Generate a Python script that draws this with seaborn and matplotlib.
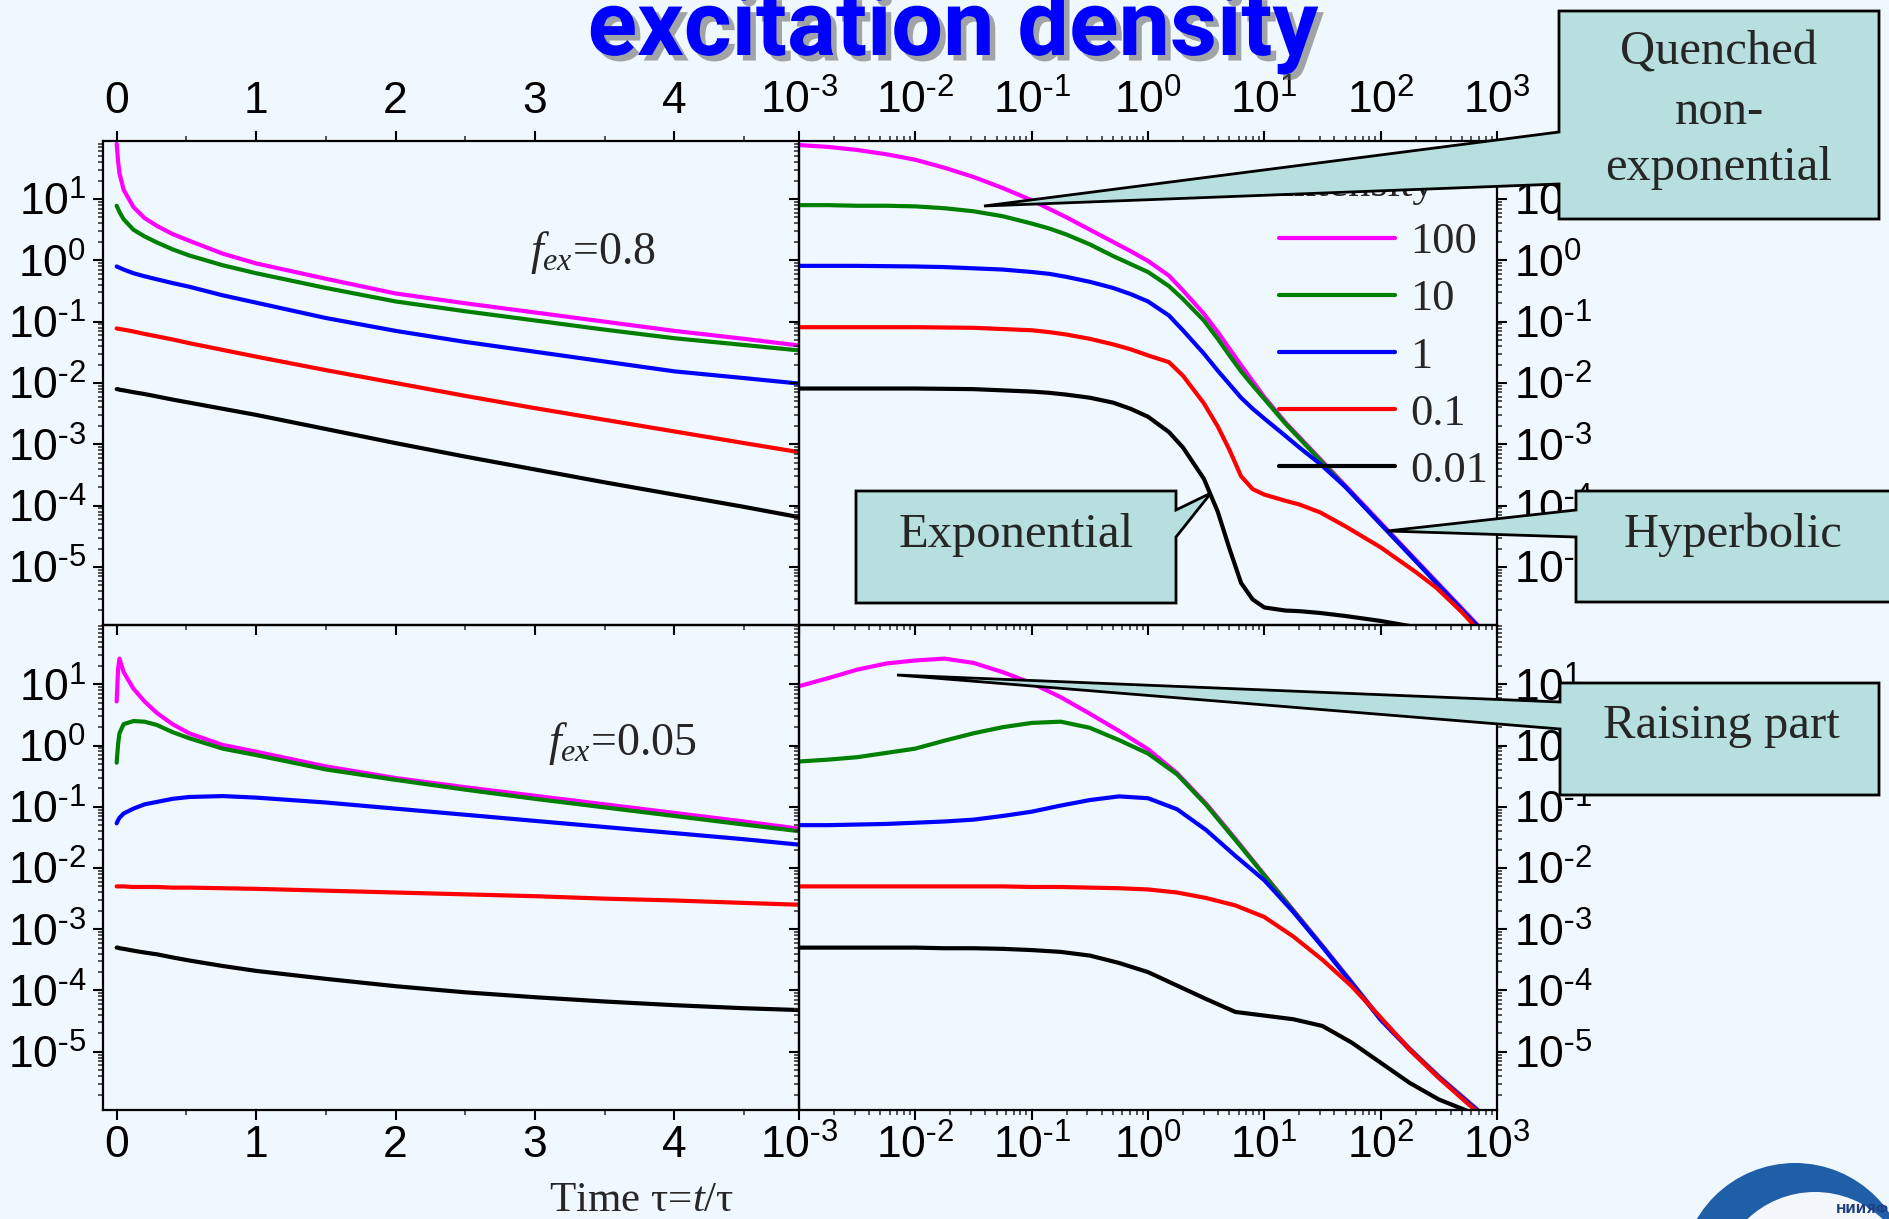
import numpy as np
import pandas as pd
import matplotlib
matplotlib.use("Agg")
import matplotlib.pyplot as plt
import matplotlib.ticker as mticker
import matplotlib.patheffects as pe
from matplotlib.patches import Polygon, Ellipse
from matplotlib.lines import Line2D
import seaborn as sns

# ---------------------------------------------------------------- data
intensity_labels = ["100", "10", "1", "0.1", "0.01"]
line_colors = ["#ff00ff", "#008000", "#0000ff", "#ff0000", "#000000"]

# linear time axis (left panels), tau = t / tau_rad
t_lin = [0, 0.01, 0.02, 0.05, 0.12, 0.2, 0.29, 0.4, 0.52, 0.76, 1.0,
         1.5, 2.0, 2.5, 3.0, 3.5, 4.0, 4.5, 4.9]

# decimal exponents of the excitation density, f_ex = 0.8, linear time
lg_hi_lin_100 = [1.90, 1.62, 1.42, 1.15, 0.87, 0.69, 0.56, 0.43, 0.32, 0.11, -0.05,
                 -0.30, -0.54, -0.70, -0.85, -1.00, -1.15, -1.28, -1.39]
lg_hi_lin_10 = [0.89, 0.84, 0.79, 0.67, 0.50, 0.39, 0.29, 0.18, 0.08, -0.08, -0.21,
                -0.45, -0.67, -0.83, -0.98, -1.13, -1.27, -1.38, -1.47]
lg_hi_lin_1 = [-0.10, -0.11, -0.12, -0.15, -0.21, -0.26, -0.31, -0.37, -0.43, -0.57, -0.69,
               -0.94, -1.15, -1.33, -1.49, -1.65, -1.81, -1.92, -2.01]
lg_hi_lin_01 = [-1.11, -1.115, -1.12, -1.13, -1.16, -1.20, -1.24, -1.29, -1.35, -1.46, -1.57,
                -1.79, -2.00, -2.21, -2.41, -2.60, -2.79, -2.98, -3.13]
lg_hi_lin_001 = [-2.10, -2.10, -2.11, -2.12, -2.15, -2.18, -2.22, -2.27, -2.32, -2.42, -2.52,
                 -2.75, -2.98, -3.20, -3.41, -3.62, -3.82, -4.02, -4.19]

# f_ex = 0.05, linear time
lg_lo_lin_100 = [0.72, 1.25, 1.42, 1.20, 0.93, 0.72, 0.53, 0.35, 0.20, 0.01, -0.10,
                 -0.34, -0.53, -0.68, -0.82, -0.96, -1.10, -1.24, -1.36]
lg_lo_lin_10 = [-0.28, 0.02, 0.20, 0.35, 0.40, 0.39, 0.335, 0.22, 0.12, -0.05, -0.155,
                -0.39, -0.56, -0.72, -0.87, -1.01, -1.15, -1.29, -1.40]
lg_lo_lin_1 = [-1.27, -1.22, -1.18, -1.11, -1.03, -0.96, -0.92, -0.87, -0.84, -0.825, -0.85,
               -0.93, -1.03, -1.13, -1.23, -1.33, -1.43, -1.53, -1.62]
lg_lo_lin_01 = [-2.30, -2.30, -2.30, -2.30, -2.31, -2.31, -2.31, -2.32, -2.32, -2.33, -2.34,
                -2.37, -2.40, -2.43, -2.46, -2.50, -2.53, -2.57, -2.60]
lg_lo_lin_001 = [-3.30, -3.30, -3.31, -3.32, -3.35, -3.38, -3.41, -3.46, -3.51, -3.60, -3.68,
                 -3.81, -3.93, -4.03, -4.11, -4.18, -4.24, -4.29, -4.32]

# logarithmic time axis, f_ex = 0.8 (decimal exponents of tau)
lg_tau_hi = [-3, -2.75, -2.5, -2.25, -2, -1.75, -1.5, -1.25, -1, -0.85, -0.7, -0.5, -0.3, -0.15,
             0, 0.18, 0.3, 0.48, 0.6, 0.7, 0.8, 0.9, 1.0, 1.18, 1.3, 1.48, 1.7, 2.0, 2.3,
             2.48, 2.7, 3.0]
lg_hi_log_100 = [1.88, 1.85, 1.80, 1.73, 1.64, 1.51, 1.36, 1.18, 0.98, 0.84, 0.70, 0.50, 0.30, 0.15,
                 -0.01, -0.25, -0.49, -0.87, -1.17, -1.44, -1.71, -1.97, -2.23, -2.64, -2.88, -3.24,
                 -3.68, -4.28, -4.88, -5.24, -5.68, -6.28]
lg_hi_log_10 = [0.90, 0.90, 0.89, 0.89, 0.88, 0.85, 0.80, 0.72, 0.60, 0.52, 0.42, 0.26, 0.07, -0.06,
                -0.19, -0.42, -0.63, -0.98, -1.28, -1.55, -1.81, -2.04, -2.26, -2.66, -2.90, -3.26,
                -3.70, -4.30, -4.90, -5.26, -5.70, -6.30]
lg_hi_log_1 = [-0.09, -0.09, -0.09, -0.095, -0.10, -0.11, -0.13, -0.15, -0.19, -0.22, -0.27, -0.35,
               -0.45, -0.55, -0.67, -0.90, -1.14, -1.52, -1.80, -2.02, -2.24, -2.42, -2.58, -2.86,
               -3.05, -3.32, -3.70, -4.30, -4.90, -5.26, -5.70, -6.30]
lg_hi_log_01 = [-1.09, -1.09, -1.09, -1.09, -1.09, -1.095, -1.10, -1.12, -1.14, -1.17, -1.21, -1.28,
                -1.37, -1.45, -1.55, -1.66, -1.88, -2.33, -2.71, -3.09, -3.52, -3.73, -3.82, -3.92,
                -3.98, -4.11, -4.34, -4.68, -5.08, -5.34, -5.74, -6.36]
lg_hi_log_001 = [-2.09, -2.09, -2.09, -2.09, -2.09, -2.095, -2.10, -2.12, -2.14, -2.16, -2.19, -2.24,
                 -2.32, -2.42, -2.55, -2.80, -3.05, -3.56, -4.10, -4.70, -5.26, -5.53, -5.66, -5.71,
                 -5.72, -5.75, -5.80, -5.88, -5.98, -6.08, -6.25, -6.50]

# logarithmic time axis, f_ex = 0.05
lg_tau_lo = [-3, -2.75, -2.5, -2.25, -2, -1.75, -1.5, -1.25, -1, -0.75, -0.5, -0.25, 0,
             0.25, 0.5, 0.75, 1.0, 1.25, 1.5, 1.75, 2.0, 2.25, 2.5, 2.75, 3.0]
lg_lo_log_100 = [0.97, 1.10, 1.24, 1.34, 1.39, 1.42, 1.35, 1.20, 1.02, 0.79, 0.52, 0.24, -0.06,
                 -0.45, -0.95, -1.52, -2.11, -2.69, -3.27, -3.86, -4.46, -4.95, -5.40, -5.81, -6.22]
lg_lo_log_10 = [-0.26, -0.23, -0.19, -0.12, -0.05, 0.08, 0.20, 0.30, 0.37, 0.39, 0.29, 0.09, -0.13,
                -0.47, -0.97, -1.54, -2.12, -2.70, -3.28, -3.87, -4.47, -4.96, -5.41, -5.82, -6.23]
lg_lo_log_1 = [-1.30, -1.30, -1.29, -1.28, -1.26, -1.24, -1.21, -1.15, -1.08, -0.98, -0.89, -0.83, -0.86,
               -1.04, -1.38, -1.80, -2.20, -2.72, -3.29, -3.88, -4.48, -4.97, -5.42, -5.83, -6.24]
lg_lo_log_01 = [-2.30, -2.30, -2.30, -2.30, -2.30, -2.30, -2.30, -2.30, -2.31, -2.31, -2.32, -2.33, -2.35,
                -2.40, -2.49, -2.61, -2.80, -3.12, -3.50, -3.93, -4.44, -4.97, -5.43, -5.85, -6.26]
lg_lo_log_001 = [-3.30, -3.30, -3.30, -3.30, -3.30, -3.31, -3.31, -3.32, -3.34, -3.37, -3.43, -3.55, -3.70,
                 -3.92, -4.14, -4.35, -4.41, -4.47, -4.58, -4.85, -5.18, -5.51, -5.78, -5.97, -6.30]

# tick decades shown on the axes
x_decades = [-3, -2, -1, 0, 1, 2, 3]
y_decades = [-5, -4, -3, -2, -1, 0, 1]
lin_ticks = [0, 1, 2, 3, 4]

# ---------------------------------------------------------------- style
BG = "#f0f8ff"
CALLOUT = "#b8dfe0"
sns.set_style("ticks", rc={"axes.facecolor": BG, "figure.facecolor": BG,
                           "axes.edgecolor": "black", "axes.linewidth": 1.6})
plt.rcParams["font.family"] = ["Liberation Sans", "DejaVu Sans"]
plt.rcParams["mathtext.fontset"] = "custom"
plt.rcParams["mathtext.rm"] = "Liberation Serif"
plt.rcParams["mathtext.it"] = "Liberation Serif:italic"
plt.rcParams["mathtext.bf"] = "Liberation Serif:bold"

W, H = 1889, 1219
fig = plt.figure(figsize=(W / 100, H / 100), dpi=100)
fig.patch.set_facecolor(BG)


def fx(px):
    return px / W


def fy(py):
    return 1 - py / H


def frame(x, curves):
    rows = []
    for lab, lg in zip(intensity_labels, curves):
        for xv, yv in zip(x, lg):
            rows.append({"time": xv, "density": 10.0 ** yv, "intensity": lab})
    return pd.DataFrame(rows)


palette = dict(zip(intensity_labels, line_colors))

X_L, X_M, X_R = 103, 799, 1497
Y_T, Y_M, Y_B = 141, 625, 1110

ax_tl = fig.add_axes([fx(X_L), fy(Y_M), fx(X_M) - fx(X_L), fy(Y_T) - fy(Y_M)])
ax_tr = fig.add_axes([fx(X_M), fy(Y_M), fx(X_R) - fx(X_M), fy(Y_T) - fy(Y_M)])
ax_bl = fig.add_axes([fx(X_L), fy(Y_B), fx(X_M) - fx(X_L), fy(Y_M) - fy(Y_B)])
ax_br = fig.add_axes([fx(X_M), fy(Y_B), fx(X_R) - fx(X_M), fy(Y_M) - fy(Y_B)])

panels = [
    (ax_tl, t_lin, [lg_hi_lin_100, lg_hi_lin_10, lg_hi_lin_1, lg_hi_lin_01, lg_hi_lin_001], False, True),
    (ax_tr, [10.0 ** v for v in lg_tau_hi],
     [lg_hi_log_100, lg_hi_log_10, lg_hi_log_1, lg_hi_log_01, lg_hi_log_001], True, True),
    (ax_bl, t_lin, [lg_lo_lin_100, lg_lo_lin_10, lg_lo_lin_1, lg_lo_lin_01, lg_lo_lin_001], False, False),
    (ax_br, [10.0 ** v for v in lg_tau_lo],
     [lg_lo_log_100, lg_lo_log_10, lg_lo_log_1, lg_lo_log_01, lg_lo_log_001], True, False),
]


def pow10(v, pos):
    e = int(round(np.log10(v)))
    if e < 0:
        return r"$\mathregular{10^{\text{-}%d}}$" % (-e)
    return r"$\mathregular{10^{%d}}$" % e


def minor_decades(decs):
    return [m * 10.0 ** d for d in range(min(decs) - 1, max(decs) + 1) for m in range(2, 10)]


for ax, x, curves, logx, top in panels:
    ax.set_facecolor("none")
    ax.set_yscale("log")
    if logx:
        ax.set_xscale("log")
    sns.lineplot(data=frame(x, curves), x="time", y="density", hue="intensity",
                 hue_order=intensity_labels, palette=palette, estimator=None,
                 sort=False, linewidth=3, legend=False, ax=ax,
                 solid_joinstyle="round", solid_capstyle="round")
    ax.set_xlabel("")
    ax.set_ylabel("")
    if top:
        ax.set_ylim(10 ** -5.946, 10 ** 1.946)
    else:
        ax.set_ylim(10 ** -5.952, 10 ** 1.969)
    ax.yaxis.set_major_locator(mticker.FixedLocator([10.0 ** d for d in y_decades]))
    ax.yaxis.set_minor_locator(mticker.FixedLocator(
        [v for v in minor_decades(y_decades) if ax.get_ylim()[0] < v < ax.get_ylim()[1]]))
    ax.yaxis.set_major_formatter(mticker.FuncFormatter(pow10))
    ax.yaxis.set_minor_formatter(mticker.NullFormatter())
    if logx:
        ax.set_xlim(1e-3, 1e3)
        ax.xaxis.set_major_locator(mticker.FixedLocator([10.0 ** d for d in x_decades]))
        ax.xaxis.set_minor_locator(mticker.FixedLocator(
            [v for v in minor_decades(x_decades) if 1e-3 < v < 1e3]))
        ax.xaxis.set_major_formatter(mticker.FuncFormatter(pow10))
        ax.xaxis.set_minor_formatter(mticker.NullFormatter())
        ax.tick_params(axis="y", which="both", left=True, right=True,
                       labelleft=False, labelright=True)
    else:
        ax.set_xlim(-0.098, 4.894)
        ax.xaxis.set_major_locator(mticker.FixedLocator(lin_ticks))
        ax.xaxis.set_minor_locator(mticker.FixedLocator([v + 0.5 for v in lin_ticks]))
        ax.xaxis.set_major_formatter(mticker.FormatStrFormatter("%d"))
        ax.tick_params(axis="y", which="both", left=True, right=False,
                       labelleft=True, labelright=False)
    if top:
        ax.tick_params(axis="x", which="both", top=True, bottom=True,
                       labeltop=True, labelbottom=False)
        ax.tick_params(axis="x", which="major", pad=6.5)
    else:
        ax.tick_params(axis="x", which="both", top=False, bottom=True,
                       labeltop=False, labelbottom=True)
        ax.tick_params(axis="x", which="major", pad=3.5)
    ax.tick_params(which="major", direction="out", length=7, width=1.5,
                   labelsize=32, colors="black")
    ax.tick_params(which="minor", direction="out", length=3.5, width=1.1)
    ax.tick_params(axis="y", which="major", pad=5)
    for s in ax.spines.values():
        s.set_visible(True)
        s.set_linewidth(1.6)

# legend of the f_ex = 0.8 panel
handles = [Line2D([], [], color=c, lw=3) for c in line_colors]
serif = {"family": "Liberation Serif", "size": 32}
ax_tr.legend(handles, intensity_labels, title="Intensity", loc="upper left",
             bbox_to_anchor=(fx(1279), fy(165)), bbox_transform=fig.transFigure,
             frameon=False, prop=serif, title_fontproperties=serif,
             handlelength=2.6, handletextpad=0.36, labelspacing=0.384,
             borderpad=0, borderaxespad=0, alignment="left")

# f_ex labels
fig.text(fx(530), fy(264), r"$f_{ex}$=0.8", family="Liberation Serif", size=33,
         ha="left", va="baseline")
fig.text(fx(548), fy(755), r"$f_{ex}$=0.05", family="Liberation Serif", size=33,
         ha="left", va="baseline")

# axis caption under the left panels
fig.text(fx(642), fy(1211), r"Time τ=$t$/τ", family="Liberation Serif", size=31,
         ha="center", va="baseline")

# title with drop shadow
fig.text(fx(953), fy(55), "excitation density", ha="center", va="baseline",
         family="Roboto", weight="bold", size=66, color="#0000ff",
         path_effects=[pe.SimplePatchShadow(offset=(4, -4), shadow_rgbFace="#606060", alpha=0.55),
                       pe.Normal()])

# callouts (figure pixel coordinates)
callouts = [
    [(1559, 11), (1879, 11), (1879, 219), (1559, 219), (1559, 184), (984, 206), (1559, 132)],
    [(856, 491), (1176, 491), (1176, 510), (1211, 493), (1176, 537), (1176, 603), (856, 603)],
    [(1576, 491), (1895, 491), (1895, 602), (1576, 602), (1576, 537), (1387, 531), (1576, 510)],
    [(1560, 683), (1879, 683), (1879, 795), (1560, 795), (1560, 729), (897, 675), (1560, 702)],
]
for pts in callouts:
    poly = Polygon([(fx(a), fy(b)) for a, b in pts], closed=True, transform=fig.transFigure,
                   facecolor=CALLOUT, edgecolor="black", linewidth=2, zorder=10)
    fig.add_artist(poly)

callout_text = [
    (1719, 65, "Quenched"), (1719, 124, "non-"), (1719, 180, "exponential"),
    (1016, 547, "Exponential"), (1733, 547, "Hyperbolic"), (1721, 738, "Raising part"),
]
for x0, y0, s in callout_text:
    fig.text(fx(x0), fy(y0), s, family="Liberation Serif", size=35, ha="center",
             va="baseline", zorder=11)


# institute emblem in the lower right corner (cut by the page edge)
def disc(cx, cy, r, color, z):
    fig.add_artist(Ellipse((fx(cx), fy(cy)), 2 * r / W, 2 * r / H, transform=fig.transFigure,
                           facecolor=color, edgecolor="none", zorder=z))


disc(1795, 1277, 114, "#1f5fa8", 5)
disc(1815, 1290, 98, "#f4f8fc", 6)
fig.text(fx(1836), fy(1213), "НИИЯФ", family="DejaVu Sans", size=9, weight="bold",
         color="#1f3f80", ha="left", va="baseline", zorder=7)

fig.savefig("out.png", dpi=100, facecolor=BG)
